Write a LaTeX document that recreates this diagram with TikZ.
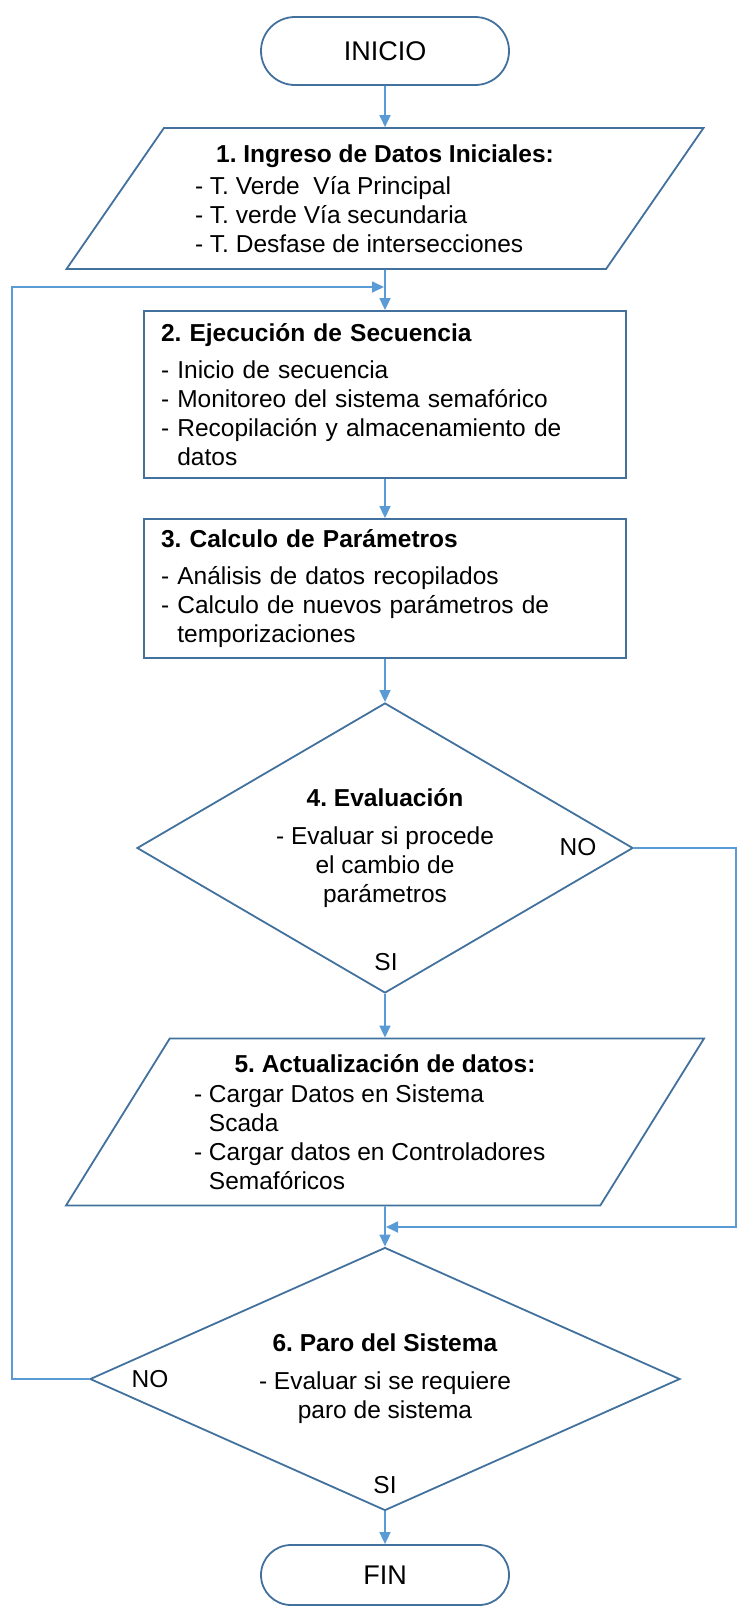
\documentclass[tikz,border=0pt]{standalone}
\usepackage{fontspec}
\setmainfont{Liberation Sans}
\usetikzlibrary{arrows.meta,positioning,shapes.geometric,calc}
\definecolor{shblue}{HTML}{41719C}
\definecolor{lnblue}{HTML}{5B9BD5}
\frenchspacing

\begin{document}
\begin{tikzpicture}[x=1pt, y=-1pt,
  base/.style={draw=shblue, line width=1.8pt, font=\fontsize{24.5}{29}\selectfont, inner sep=0pt},
  term/.style={base, minimum width=248pt, font=\fontsize{27}{32}\selectfont},
  iob/.style={base, trapezium, trapezium stretches body, align=center},
  proc/.style={base, rectangle, align=left, text width=448pt, inner xsep=17pt},
  dec/.style={base, diamond, align=center},
  lbl/.style={font=\fontsize{24.5}{29}\selectfont, inner sep=0pt},
  ar/.style={-{Triangle[length=12pt,width=11pt]}, draw=lnblue, line width=1.7pt},
]
  \useasboundingbox (0,0) rectangle (737,1607);
  % start and data input
  \node[term, minimum height=68pt, rounded corners=34pt] (inicio) at (385,51) {INICIO};
  \node[iob, trapezium left angle=48, trapezium right angle=132,
        minimum width=637pt, minimum height=141pt] (datos) at (385,198.5)
    {\textbf{1. Ingreso de Datos Iniciales:}\\[8pt]
     \parbox{380pt}{\raggedright - T. Verde\ \ Vía Principal\\- T. verde Vía secundaria\\- T. Desfase de intersecciones}};
  % processes
  \node[proc, minimum height=167pt] (ejec) at (385,394.5)
    {\textbf{2. Ejecución de Secuencia}\\[8pt]
     - Inicio de secuencia\\
     - Monitoreo del sistema semafórico\\
     - Recopilación y almacenamiento de\\
     \phantom{- }datos};
  \node[proc, minimum height=139pt] (calc) at (385,588.5)
    {\textbf{3. Calculo de Parámetros}\\[8pt]
     - Análisis de datos recopilados\\
     - Calculo de nuevos parámetros de\\
     \phantom{- }temporizaciones};
  % first decision
  \node[dec, aspect=1.71, minimum width=496pt, minimum height=290pt] (eval) at (385,848)
    {\textbf{4. Evaluación}\\[9pt]
     - Evaluar si procede\\
     el cambio de\\
     parámetros};
  \node[lbl] (no4) at (578,847) {NO};
  \node[lbl] (si4) at (386,962) {SI};
  % update
  \node[iob, trapezium left angle=52.5, trapezium right angle=127.5,
        minimum width=638pt, minimum height=167pt] (actual) at (385,1122)
    {\textbf{5. Actualización de datos:}\\[11pt]
     \parbox{382pt}{\raggedright - Cargar Datos en Sistema\\\phantom{- }Scada\\- Cargar datos en Controladores\\\phantom{- }Semafóricos}};
  % second decision
  \node[dec, aspect=2.24, minimum width=590pt, minimum height=263pt] (paro) at (385,1379)
    {\textbf{6. Paro del Sistema}\\[9pt]
     - Evaluar si se requiere\\
     paro de sistema};
  \node[lbl] (no6) at (150,1379) {NO};
  \node[lbl] (si6) at (385,1485) {SI};
  \node[term, minimum height=60pt, rounded corners=30pt] (fin) at (385,1575) {FIN};
  % connectors
  \coordinate (m1) at (384,287);
  \coordinate (m2) at (386,1227);
  \coordinate (edgeL) at (12,0);
  \coordinate (edgeR) at (736,0);
  \draw[ar] (inicio) -- (datos);
  \draw[ar] (datos) -- (ejec);
  \draw[ar] (ejec) -- (calc);
  \draw[ar] (calc) -- (eval);
  \draw[ar] (eval) -- (actual);
  \draw[ar] (actual) -- (paro);
  \draw[ar] (paro) -- (fin);
  \draw[ar] (eval.east) -- (eval.east -| edgeR) |- (m2);
  \draw[ar] (paro.west) -- (paro.west -| edgeL) |- (m1);
\end{tikzpicture}
\end{document}
